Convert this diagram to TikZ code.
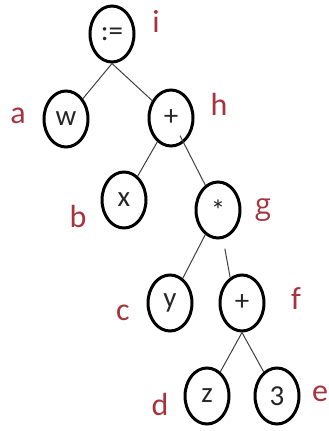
\documentclass[tikz,border=0pt]{standalone}
\usepackage{fontspec}
\setmainfont{Carlito}
\newfontfamily\tagalt{Open Sans}
\usetikzlibrary{shapes.geometric}
\definecolor{labelred}{HTML}{A8323E}
\tikzset{
  treenode/.style={ellipse, draw=black, line width=3pt, minimum width=44pt,
    minimum height=56pt, inner sep=0pt, text=black!85,
    font=\fontsize{29}{29}\selectfont},
  tag/.style={text=labelred, inner sep=0pt, font=\fontsize{32}{32}\selectfont},
  edge/.style={draw=black!75, line width=1pt}
}
\begin{document}
\begin{tikzpicture}[x=1pt,y=-1pt]
  \useasboundingbox (0,0) rectangle (329,431);
  % operator and operand nodes
  \node[treenode] (root) at (112,34) {:=};
  \node[treenode] (w) at (66,119) {w};
  \node[treenode] (h) at (171,118) {+};
  \node[treenode] (x) at (124,200) {x};
  \node[treenode] (g) at (218,210) {*};
  \node[treenode] (y) at (170,303) {y};
  \node[treenode] (f) at (242,303) {+};
  \node[treenode] (z) at (207,396) {z};
  \node[treenode] (three) at (277,396) {3};
  % node tags
  \node[tag] (ti) at (156,21) {i};
  \node[tag] (ta) at (18,116) {a};
  \node[tag] (th) at (219,104) {h};
  \node[tag] (tb) at (78,216) {b};
  \node[tag, font=\tagalt\fontsize{29}{29}\selectfont] (tg) at (263,210) {g};
  \node[tag] (tc) at (123,313) {c};
  \node[tag] (tf) at (296,299) {f};
  \node[tag] (td) at (160,404) {d};
  \node[tag] (te) at (320,394) {e};
  % tree edges
  \draw[edge] (root.south) -- (w);
  \draw[edge] (root.south) -- (h);
  \draw[edge] (h) -- (x);
  \draw[edge, shorten <=-8pt] (h) -- (g);
  \draw[edge] (g) -- (y);
  \draw[edge, shorten <=10pt] (g.-80) -- (f.115);
  \draw[edge] (f.south) -- (z);
  \draw[edge] (f.south) -- (three);
\end{tikzpicture}
\end{document}
